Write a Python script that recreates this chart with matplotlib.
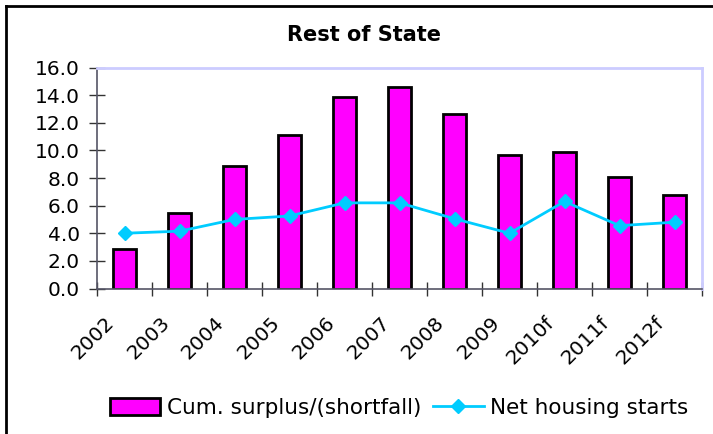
import numpy as np
from matplotlib import pyplot as plt
from matplotlib.lines import Line2D
from matplotlib.transforms import ScaledTranslation

plt.rcParams['font.family'] = ['DejaVu Sans']

# data
years = ["2002", "2003", "2004", "2005", "2006", "2007", "2008", "2009", "2010f", "2011f", "2012f"]
surplus = [2.85, 5.5, 8.9, 11.1, 13.85, 14.6, 12.6, 9.7, 9.9, 8.1, 6.8]
starts = [4.0, 4.15, 5.0, 5.25, 6.2, 6.2, 5.05, 4.0, 6.3, 4.55, 4.8]

W, H = 713, 434
fig = plt.figure(figsize=(W/100, H/100), dpi=100)
ax = fig.add_axes([97/W, 1 - 288.5/H, (702-97)/W, (288.5-67.5)/H])

x = np.arange(len(years))
bars = ax.bar(x, surplus, width=0.42, color='#ff00ff', edgecolor='black', linewidth=2.0,
              label='Cum. surplus/(shortfall)', zorder=2)
line, = ax.plot(x, starts, color='#00ccff', linewidth=2.0, marker='D', markersize=7.5,
                label='Net housing starts', zorder=3)

ax.set_xlim(-0.5, len(years) - 0.5)
ax.set_ylim(0, 16)
yt = np.arange(0, 16.1, 2)
ax.set_yticks(yt)
ax.set_yticklabels([f"{v:.1f}" for v in yt], fontsize=14.5)

# ticks between categories, labels at category centers
ax.set_xticks(np.arange(-0.5, len(years)))
ax.set_xticklabels([])
off = ScaledTranslation(-13/100, -31/100, fig.dpi_scale_trans)
for xi, lab in zip(x, years):
    ax.text(xi, 0, lab, transform=ax.get_xaxis_transform() + off, rotation=45,
            ha='right', va='center', rotation_mode='anchor', fontsize=14.5)
ax.tick_params(axis='x', direction='inout', length=10.5, width=1, color='#333333')
ax.tick_params(axis='y', direction='inout', length=11, width=1, color='#333333', pad=7)

for s in ['top', 'right']:
    ax.spines[s].set_color('#ccccff')
    ax.spines[s].set_linewidth(2)
for s in ['left', 'bottom']:
    ax.spines[s].set_color('#555566')
    ax.spines[s].set_linewidth(1.2)

fig.text(364/W, 1 - 35/H, "Rest of State", ha='center', va='center',
         fontsize=15, fontweight='bold')

fig.legend(handles=[bars, line], loc='center', bbox_to_anchor=(399/W, 1 - 408/H), ncol=2,
           frameon=False, fontsize=15.5, handlelength=2.35, handleheight=0.8,
           handletextpad=0.3, columnspacing=0.55, borderpad=0.2)

# outer chart border (left and top only visible)
fig.add_artist(Line2D([6/W, 6/W], [0, 1 - 6/H], transform=fig.transFigure, color='black', linewidth=2))
fig.add_artist(Line2D([6/W, 1], [1 - 6/H, 1 - 6/H], transform=fig.transFigure, color='black', linewidth=2))

fig.savefig("out.png", dpi=100, facecolor='white')
